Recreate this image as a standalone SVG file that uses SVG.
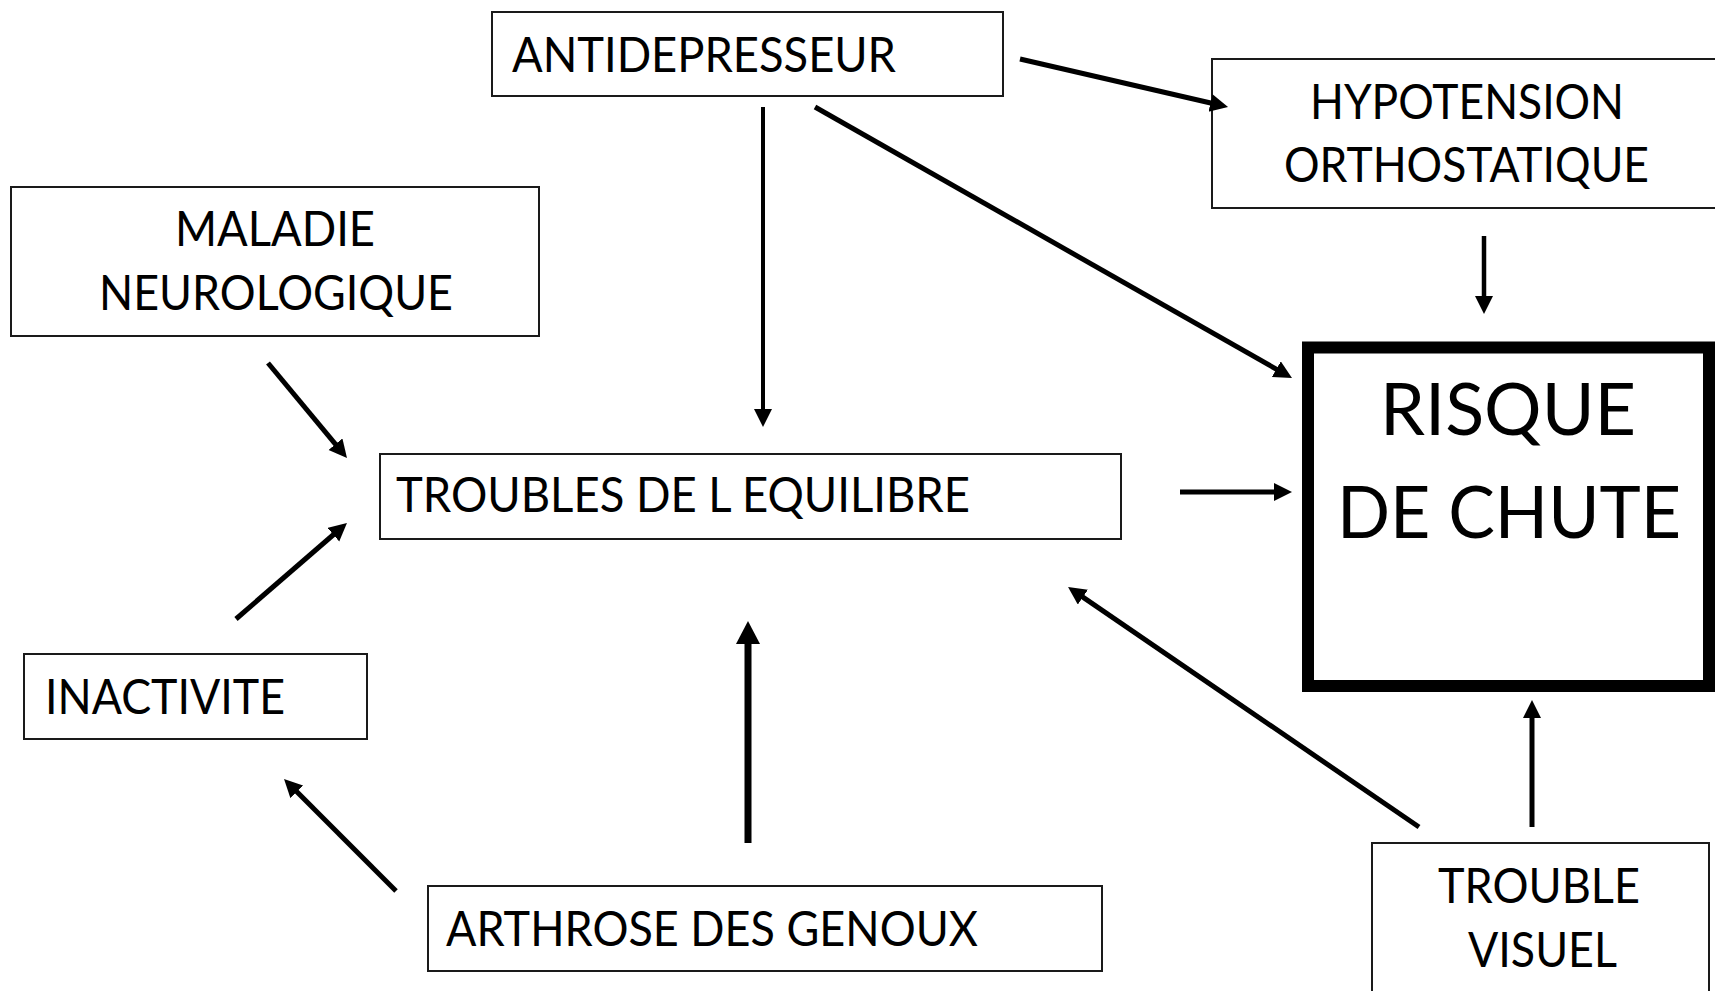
<svg xmlns="http://www.w3.org/2000/svg" width="1715" height="991" viewBox="0 0 1715 991">
<style>
.box{fill:#fff;stroke:#1a1a1a;stroke-width:2}
.big{fill:#fff;stroke:#000;stroke-width:12}
.t{font-family:Lato,"Open Sans","Liberation Sans",sans-serif;font-size:49px;fill:#000}
.tb{font-family:Lato,"Open Sans","Liberation Sans",sans-serif;font-size:72px;fill:#000}
.c{fill:none;stroke:#000;stroke-width:5;marker-end:url(#ah)}
.ct{fill:none;stroke:#000;stroke-width:7;marker-end:url(#ahb)}
</style>
<defs>
<marker id="ah" markerUnits="userSpaceOnUse" markerWidth="20" markerHeight="20" refX="8" refY="9" orient="auto"><path d="M0,0 L18,9 L0,18 z" fill="#000"/></marker>
<marker id="ahb" markerUnits="userSpaceOnUse" markerWidth="26" markerHeight="26" refX="12" refY="12" orient="auto"><path d="M0,0 L23,12 L0,24 z" fill="#000"/></marker>
</defs>
<rect width="1715" height="991" fill="#fff"/>
<g id="antidepresseur"><rect class="box" x="492" y="12" width="511" height="84"/><text class="t" x="512" y="72" textLength="384" lengthAdjust="spacingAndGlyphs">ANTIDEPRESSEUR</text></g>
<g id="hypotension"><rect class="box" x="1212" y="59" width="520" height="149"/><text class="t" x="1310" y="119" textLength="314" lengthAdjust="spacingAndGlyphs">HYPOTENSION</text><text class="t" x="1284" y="182" textLength="365" lengthAdjust="spacingAndGlyphs">ORTHOSTATIQUE</text></g>
<g id="maladie"><rect class="box" x="11" y="187" width="528" height="149"/><text class="t" x="175" y="246" textLength="200" lengthAdjust="spacingAndGlyphs">MALADIE</text><text class="t" x="99" y="310" textLength="354" lengthAdjust="spacingAndGlyphs">NEUROLOGIQUE</text></g>
<g id="troubles"><rect class="box" x="380" y="454" width="741" height="85"/><text class="t" x="396" y="512" textLength="574" lengthAdjust="spacingAndGlyphs">TROUBLES DE L EQUILIBRE</text></g>
<g id="risque"><rect class="big" x="1308" y="347.5" width="401" height="338.5"/><text class="tb" x="1380" y="435" textLength="256" lengthAdjust="spacingAndGlyphs">RISQUE</text><text class="tb" x="1337" y="538" textLength="344" lengthAdjust="spacingAndGlyphs">DE CHUTE</text></g>
<g id="inactivite"><rect class="box" x="24" y="654" width="343" height="85"/><text class="t" x="45" y="714" textLength="240" lengthAdjust="spacingAndGlyphs">INACTIVITE</text></g>
<g id="arthrose"><rect class="box" x="428" y="886" width="674" height="85"/><text class="t" x="446" y="946" textLength="532" lengthAdjust="spacingAndGlyphs">ARTHROSE DES GENOUX</text></g>
<g id="visuel"><rect class="box" x="1372" y="843" width="337" height="160"/><text class="t" x="1438" y="903" textLength="202" lengthAdjust="spacingAndGlyphs">TROUBLE</text><text class="t" x="1468" y="967" textLength="149" lengthAdjust="spacingAndGlyphs">VISUEL</text></g>
<g id="connectors">
<line class="c" x1="1020" y1="59" x2="1218.3" y2="104.8"/>
<line class="c" x1="763" y1="107" x2="763" y2="417" style="stroke-width:4"/>
<line class="c" x1="815" y1="107" x2="1283.3" y2="373.1"/>
<line class="c" x1="1484" y1="236" x2="1484" y2="304" style="stroke-width:4.5"/>
<line class="c" x1="1180" y1="492" x2="1282" y2="492"/>
<line class="c" x1="268" y1="363" x2="340.6" y2="450.3"/>
<line class="c" x1="236" y1="619" x2="339.4" y2="529.5"/>
<line class="c" x1="396" y1="891" x2="291.1" y2="786.1"/>
<line class="ct" x1="748" y1="843" x2="748" y2="632"/>
<line class="c" x1="1419" y1="827" x2="1076.3" y2="592.6"/>
<line class="c" x1="1532" y1="827" x2="1532" y2="710"/>
</g>
</svg>
